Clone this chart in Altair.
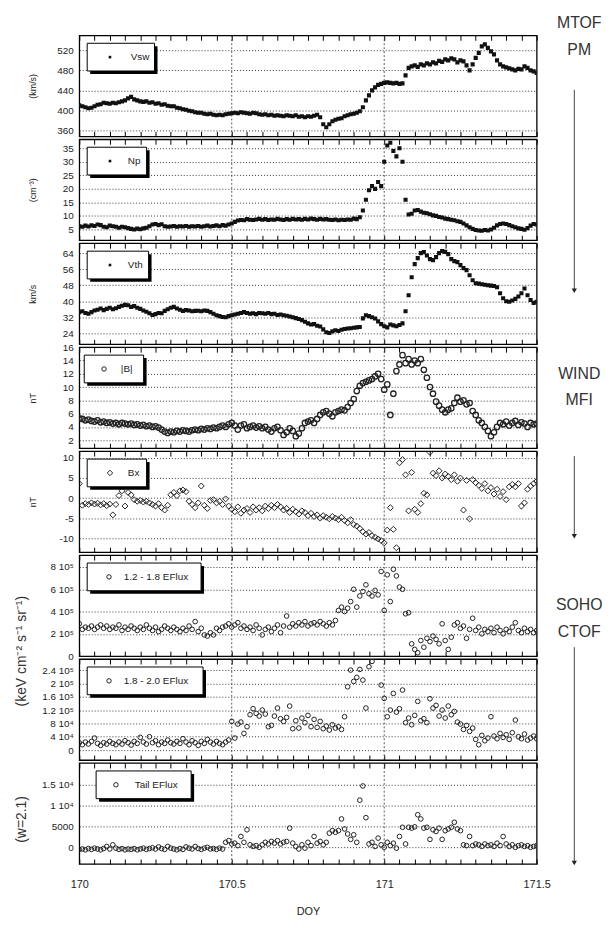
import altair as alt
import pandas as pd

# time grid (day of year)
T = [round(170 + i / 100, 2) for i in range(151)]
XT = [round(170 + i * 0.05, 2) for i in range(31)]

vsw = [410, 408, 406, 404, 405, 408, 411, 412, 415, 414,
       413, 415, 414, 416, 418, 420, 424, 427, 422, 420,
       418, 417, 418, 415, 416, 413, 414, 411, 412, 409,
       408, 408, 405, 404, 402, 401, 399, 398, 396, 395,
       395, 393, 392, 393, 391, 390, 391, 390, 392, 393,
       394, 395, 394, 396, 395, 394, 393, 395, 394, 392,
       391, 392, 390, 391, 389, 390, 389, 388, 390, 389,
       388, 390, 387, 388, 386, 388, 387, 389, 391, 386,
       372, 366, 372, 378, 381, 383, 384, 388, 390, 392,
       393, 395, 398, 406, 420, 430, 440, 446, 451, 453,
       455, 456, 455, 454, 455, 453, 454, 470, 485, 488,
       490, 487, 492, 490, 494, 492, 496, 494, 499, 497,
       502, 500, 504, 502, 496, 500, 498, 490, 480, 492,
       505, 515, 528, 532, 525, 518, 512, 500, 492, 488,
       486, 484, 482, 480, 483, 482, 488, 485, 480, 478,
       475]

np_ = [6.2, 6.0, 6.4, 6.1, 6.5, 6.3, 6.8, 6.6, 6.0, 5.8,
       6.4, 6.2, 6.0, 5.6, 6.0, 5.8, 5.5, 5.2, 5.0, 5.3,
       5.1, 5.4, 5.6, 6.2, 6.8, 7.0, 6.6, 6.9, 6.2, 6.0,
       6.1, 6.3, 6.0, 6.2, 6.1, 6.3, 6.0, 6.2, 6.1, 6.3,
       6.0, 6.2, 6.4, 6.1, 6.3, 6.5, 6.2, 6.6, 6.4, 6.8,
       7.2, 7.8, 8.3, 8.5, 8.4, 8.8, 8.6, 8.5, 8.7, 8.9,
       8.6, 8.8, 8.5, 8.7, 8.6, 8.9, 8.7, 8.5, 8.8, 8.6,
       8.9, 8.7, 8.8, 8.6, 8.9, 8.7, 9.0, 8.8, 8.6, 8.9,
       8.7, 8.8, 8.6, 8.5, 8.7, 8.4, 8.6, 8.5, 8.7, 8.6,
       9.0, 8.8, 9.5, 12.0, 16.0, 19.5, 21.0, 20.0, 22.5, 21.0,
       30.0, 36.0, 37.0, 34.0, 32.0, 35.0, 30.0, 16.0, 10.5, 10.8,
       12.0, 12.2, 11.6, 11.2, 11.0, 10.6, 10.2, 10.0, 9.6, 9.4,
       9.0, 8.8, 8.6, 8.4, 8.0, 7.8, 7.2, 6.5, 5.8, 5.2,
       4.8, 4.6, 4.5, 4.8, 4.6, 5.0, 5.6, 6.5, 7.0, 7.2,
       7.0, 6.6, 6.2, 5.8, 5.4, 5.2, 4.9, 5.5, 6.4, 7.0,
       6.8]

vth = [34.5, 35.0, 34.2, 33.8, 34.6, 35.4, 35.8, 36.4, 35.6, 36.2,
       36.8, 36.0, 36.5, 37.2, 37.8, 38.2, 38.0, 37.2, 37.6, 36.8,
       36.2, 35.4, 34.8, 34.0, 33.2, 33.6, 34.2, 34.0, 35.2, 36.0,
       36.8, 37.2, 36.4, 35.8, 35.2, 35.6, 35.4, 35.0, 35.2, 35.3,
       35.0, 35.4, 35.2, 34.6, 33.8, 33.0, 32.6, 32.2, 32.0, 32.6,
       33.0, 33.4, 33.8, 34.2, 34.6, 34.2, 33.8, 34.0, 33.6, 34.2,
       34.0, 33.8, 34.2, 33.6, 33.8, 33.2, 33.4, 33.0, 32.8, 32.4,
       32.0, 31.6, 31.2, 30.6, 29.8, 29.0, 28.4, 28.6, 27.8, 27.4,
       26.0, 24.6, 24.2, 25.0, 25.6, 25.2, 25.8, 26.2, 26.4, 26.6,
       26.8, 27.0, 27.2, 31.5, 33.0, 32.6, 32.0, 31.4, 30.0, 28.6,
       27.6, 27.0, 28.4, 28.0, 27.6, 28.2, 29.0, 35.0, 43.0, 52.0,
       58.5, 61.5, 64.0, 64.5, 62.8, 61.0, 60.5, 62.0, 64.0, 65.0,
       64.6, 63.5, 61.0, 60.0, 59.5, 58.0, 56.5, 55.5, 53.0, 50.5,
       49.0, 48.8, 48.5, 48.2, 48.0, 47.8, 47.6, 47.0, 44.0, 41.5,
       40.0, 39.8, 40.4, 41.2, 42.4, 44.0, 46.4, 43.0, 40.6, 39.2,
       39.8]

bmag = [5.3, 5.2, 5.0, 5.1, 4.9, 4.8, 5.0, 4.7, 4.8, 4.6,
        4.7, 4.5, 4.6, 4.4, 4.6, 4.5, 4.4, 4.5, 4.3, 4.4,
        4.2, 4.3, 4.1, 4.2, 4.0, 4.1, 3.9, 3.6, 3.3, 3.1,
        3.3, 3.2, 3.4, 3.3, 3.5, 3.4, 3.3, 3.5, 3.6, 3.5,
        3.7, 3.6, 3.8, 3.7, 3.9, 3.8, 4.0, 4.2, 4.0, 4.4,
        4.6, 4.2, 3.6, 4.2, 4.4, 3.8, 4.0, 4.2, 3.9, 4.1,
        3.8, 4.0, 3.6, 3.3, 3.8, 4.0, 3.5, 2.8, 3.2, 3.8,
        3.4, 2.6, 3.0, 3.8, 4.6, 4.8, 5.0, 4.6, 5.2, 5.8,
        6.2, 6.4, 6.0, 5.6, 6.2, 6.4, 6.6, 6.5, 7.0, 7.6,
        8.2, 9.4, 10.2, 10.6, 10.8, 11.0, 11.2, 11.6, 12.0, 11.2,
        9.6, 10.4, 5.8, 9.0, 12.4, 13.4, 14.8, 13.6, 14.2, 13.4,
        14.0, 13.6, 14.2, 12.6, 11.4, 10.0, 9.0, 7.8, 7.2, 6.6,
        6.2, 6.6, 6.8, 7.6, 8.4, 7.8, 8.0, 7.4, 7.6, 6.4,
        5.8, 5.0, 4.6, 4.0, 3.4, 2.6, 3.2, 4.0, 4.6, 4.4,
        4.8, 4.2, 4.6, 4.9, 4.3, 4.7, 4.5, 4.0, 4.6, 4.4,
        4.5]

bx = [3.6, -1.8, -1.4, -1.6, -1.2, -1.5, -1.3, -1.7, -1.4, -1.9,
      -1.5, -4.2, -1.6, 0.6, 1.8, -2.0, 1.4, 0.8, -0.4, -0.8,
      -0.6, -1.0, -0.8, -1.2, -1.6, -2.0, -1.4, -2.4, -3.0, -1.8,
      0.8, 1.4, 0.6, 1.8, 2.0, 1.6, -0.8, -1.6, -2.4, -1.2,
      3.0, -1.8, -2.6, -0.6, -0.4, -1.2, -0.8, -1.6, -0.2, -2.0,
      -2.8, -3.4, -2.2, -3.8, -3.0, -2.6, -3.6, -2.2, -3.0, -2.4,
      -3.2, -2.0, -2.6, -1.8, -2.4, -1.6, -2.2, -3.0, -2.6, -3.6,
      -2.8, -3.4, -4.0, -3.2, -3.6, -4.4, -3.8, -4.6, -4.2, -5.0,
      -4.4, -4.8, -5.2, -4.6, -5.0, -5.4, -4.8, -5.6, -6.2, -5.4,
      -6.6, -7.0, -7.6, -8.4, -9.0, -8.6, -9.4, -9.8, -10.2, -10.6,
      -11.2, -8.0, -2.4, -7.8, -12.4, 8.8, 9.6, 5.8, -3.2, 6.4,
      -2.8, -3.6, -1.4, 1.2, 0.8, 11.4, 6.2, 5.6, 6.8, 5.0,
      6.0, 5.4, 4.6, 5.8, 4.2, 5.0, -3.0, 4.4, -5.2, 4.6,
      3.8, 3.2, 2.4, 3.6, 1.8, 2.6, 1.0, 2.2, 0.4, 1.6,
      -0.4, 2.8, 3.4, 2.8, 3.6, -2.0, -1.2, 2.2, 3.0, 3.6,
      4.2]

# 1.2 - 1.8 EFlux, units of 1e5
ef1 = [2.9, 2.4, 2.6, 2.5, 2.7, 2.4, 2.6, 2.8, 2.5, 2.7,
       2.4, 2.6, 2.5, 2.8, 2.3, 2.6, 2.4, 2.7, 2.5, 2.3,
       2.6, 2.4, 2.8, 2.5, 2.3, 2.6, 2.2, 2.4, 2.7, 2.5,
       2.3, 2.6, 2.4, 2.2, 2.5, 2.3, 2.7, 2.4, 3.1, 2.2,
       2.5, 1.9, 1.8, 2.1, 1.9, 2.5, 2.3, 2.6, 2.7, 2.9,
       2.6, 2.8, 3.0, 2.5, 2.7, 2.4, 2.6, 2.3, 2.8, 2.5,
       1.9, 2.4, 2.6, 2.2, 2.5, 2.8, 2.1, 2.7, 3.6, 2.6,
       2.9, 2.7, 3.0, 2.8, 3.1, 2.7, 2.9, 3.0, 2.8, 3.1,
       2.9, 2.7, 3.0, 2.8, 3.2, 4.1, 4.4, 4.0, 4.3, 4.9,
       6.0, 4.4, 5.4, 5.8, 6.4, 5.6, 5.4, 5.9, 5.5, 7.6,
       4.1, 7.3, 4.9, 7.8, 7.2, 6.2, 6.0, 3.8, 3.9, 1.1,
       0.6, 0.3, 1.4, 0.8, 1.6, 1.3, 1.8, 1.5, 1.1, 2.9,
       1.4, 0.6, 1.7, 2.8, 3.0, 2.5, 2.7, 1.6, 2.4, 3.4,
       2.3, 2.6, 2.0, 2.4, 2.2, 2.5, 2.1, 2.6, 2.3, 2.0,
       2.4, 2.2, 2.6, 3.0, 2.3, 2.1, 2.5, 2.2, 2.4, 2.1,
       2.3]

# 1.8 - 2.0 EFlux, units of 1e4
ef2 = [2.2, 1.6, 2.4, 1.8, 2.6, 3.6, 2.0, 1.4, 2.2, 1.8,
       2.6, 2.0, 1.6, 2.4, 1.8, 2.8, 2.2, 1.5, 2.6, 2.0,
       3.8, 2.4, 1.8, 4.0, 2.2, 2.8, 1.6, 2.4, 2.0, 3.0,
       2.2, 1.8, 2.6, 2.0, 3.4, 2.4, 1.6, 2.8, 2.2, 1.4,
       2.6, 2.0, 3.2, 2.4, 1.8, 2.6, 2.0, 1.6, 2.4, 3.0,
       8.6, 3.6, 7.8, 8.4, 5.0, 7.0, 10.6, 12.4, 11.0, 10.2,
       12.0, 10.8, 7.0, 7.4, 10.2, 12.6, 9.4, 8.6, 9.8, 13.2,
       6.4, 8.8, 6.6, 9.6, 8.2, 10.4, 7.0, 9.2, 6.8, 8.6,
       6.4, 7.2, 6.0, 7.6, 6.6, 7.0, 6.2, 10.0, 19.0, 24.0,
       20.6, 21.8, 24.2, 21.0, 12.6, 25.0, 26.6, None, None, 19.5,
       15.5, 10.0, 12.0, 17.0, 11.4, 12.4, 18.0, 8.2, 9.6, 7.6,
       10.4, 14.6, 8.8, 9.4, 8.2, 15.4, 12.6, 13.4, 10.2, 12.0,
       9.6, 13.2, 10.6, 11.6, 8.4, 7.8, 6.2, 7.4, 5.6, 6.6,
       3.2, 1.6, 4.4, 2.8, 3.6, 10.0, 4.2, 3.4, 5.0, 3.8,
       4.6, 3.2, 5.2, 9.0, 4.0, 3.4, 4.8, 3.0, 3.6, 4.2,
       3.4]

# Tail EFlux, units of 1e3
tail = [-0.5, -0.4, -0.6, -0.3, -0.5, -0.2, -0.4, -0.6, -0.3, 0.2,
        -0.4, 0.6, -0.2, -0.5, -0.3, -0.6, -0.4, -0.5, -0.3, -0.6,
        -0.4, -0.2, -0.5, -0.3, -0.1, -0.4, 0.1, -0.3, -0.5, 0.2,
        -0.2, -0.4, -0.6, -0.3, -0.5, 0.1, -0.2, -0.4, 0.2, -0.3,
        -0.5, -0.2, 0.0, -0.4, -0.3, -0.5, -0.2, -0.4, 1.2, 1.6,
        0.8, 1.0, 0.4, 2.6, 1.2, 4.2, 0.6, 0.2, 0.4, 0.0,
        0.6, 1.2, 0.8, 1.4, 1.0, 1.6, 0.8, 1.2, 1.4, 4.6,
        1.0, 0.2, -0.4, 0.6, -0.2, 1.2, 0.4, 2.6, 1.0, 1.4,
        0.6, 1.2, 3.4, 4.0, 3.6, 4.0, 6.8, 4.4, 3.2, 1.9,
        3.0, 1.2, 11.3, 14.7, 7.1, 0.8, 1.2, 0.2, 2.2, 0.6,
        0.0, 1.2, 0.4, 1.0, -0.2, 2.6, 4.8, 0.8, 4.8, 4.6,
        4.9, 7.8, 6.8, 4.6, 4.8, 1.9, 4.2, 3.8, 4.6, 1.9,
        4.0, 4.4, 4.8, 6.0, 4.4, 4.0, 0.6, 0.4, 2.6, 0.4,
        0.8, 0.6, 0.2, 0.8, 0.4, 0.6, 0.2, 1.0, 0.4, 2.6,
        0.8, 0.2, 0.6, 0.0, 0.4, 0.6, 0.2, 0.4, 0.0, 0.2,
        0.4]

FONT = "Liberation Sans Narrow, Liberation Sans, Arial, sans-serif"
W, H = 462, 102
ONE = alt.Data(values=[{"a": 1}])
XSCALE = alt.Scale(domain=[170, 171.5], nice=False, zero=False)


def tern(pairs):
    parts = [f"abs(datum.value - ({v})) < 1e-6 ? '{s}'" for v, s in pairs]
    return " : ".join(parts) + " : ''"


def x_bottom(last):
    kw = dict(orient="bottom", values=XT, tickSize=5, offset=-5, domain=False,
              grid=False, tickColor="black", tickWidth=1)
    if last:
        kw.update(labels=True, labelOverlap=False, labelFlush=False,
                  labelExpr=tern([(170, "170"), (170.5, "170.5"), (171, "171"), (171.5, "171.5")]),
                  labelPadding=15, labelFontSize=11, labelFont=FONT, labelColor="#222",
                  titleFont=FONT, titleFontSize=11, titleFontWeight="normal",
                  titlePadding=16, titleColor="#222")
    else:
        kw.update(labels=False)
    return alt.Axis(**kw)


X_TOP = alt.Axis(orient="top", values=XT, tickSize=5, offset=-5, domain=False,
                 grid=False, labels=False, tickColor="black", tickWidth=1)


def panel(vals, domain, yticks, ylabels, ytitle, kind, legend, box, last=False, extra=()):
    df = pd.DataFrame({"t": T, "v": vals})
    yaxis = alt.Axis(values=yticks, labelExpr=tern(list(zip(yticks, ylabels))),
                     grid=True, gridDash=[1, 2], gridColor="#222", gridWidth=0.9,
                     ticks=False, domain=False, labelFont=FONT, labelFontSize=10,
                     labelColor="#222", labelPadding=6, labelOverlap=False,
                     titleFont=FONT, titleFontSize=9, titleFontWeight="normal",
                     titleColor="#222", titleX=-47, titleY=H / 2, titleAngle=270,
                     titleAlign="center", titleBaseline="middle")
    enc = dict(
        x=alt.X("t:Q", scale=XSCALE, axis=x_bottom(last), title="DOY" if last else ""),
        y=alt.Y("v:Q", scale=alt.Scale(domain=domain, nice=False, zero=False),
                axis=yaxis, title=ytitle),
    )
    if kind == "dot":
        pts = alt.Chart(df).mark_square(size=17, color="#111", opacity=1, clip=True)
    elif kind == "blob":
        pts = alt.Chart(df).mark_point(shape="circle", filled=False, size=30,
                                       strokeWidth=1.3, color="#222", opacity=1, clip=True)
    elif kind == "circle":
        pts = alt.Chart(df).mark_point(shape="circle", filled=False, size=22,
                                       strokeWidth=1, color="#222", opacity=1, clip=True)
    else:
        pts = alt.Chart(df).mark_point(shape="diamond", filled=False, size=36,
                                       strokeWidth=1, color="#222", opacity=1, clip=True)
    pts = pts.encode(**enc)

    rules = alt.Chart(alt.Data(values=[{"t": 170.5}, {"t": 171.0}])).mark_rule(
        strokeDash=[2, 2], color="#333", strokeWidth=0.8
    ).encode(x=alt.X("t:Q", scale=XSCALE, axis=X_TOP, title=""))

    bx0, bw, sx, tx = box
    by, bh = 8, 28
    shadow = alt.Chart(ONE).mark_rect(color="black").encode(
        x=alt.value(bx0 + 3), x2=alt.value(bx0 + bw + 3),
        y=alt.value(by + 3), y2=alt.value(by + bh + 3))
    frame = alt.Chart(ONE).mark_rect(fill="white", stroke="black", strokeWidth=1).encode(
        x=alt.value(bx0), x2=alt.value(bx0 + bw), y=alt.value(by), y2=alt.value(by + bh))
    if kind == "dot":
        sym = alt.Chart(ONE).mark_square(size=7, color="#111", opacity=1)
    elif kind in ("circle", "blob"):
        sym = alt.Chart(ONE).mark_point(shape="circle", filled=False, size=20,
                                        strokeWidth=1, color="#222", opacity=1)
    else:
        sym = alt.Chart(ONE).mark_point(shape="diamond", filled=False, size=30,
                                        strokeWidth=1, color="#222", opacity=1)
    sym = sym.encode(x=alt.value(sx), y=alt.value(by + bh / 2))
    txt = alt.Chart(ONE).mark_text(align="left", baseline="middle", font=FONT,
                                   fontSize=10, color="#222").encode(
        x=alt.value(tx), y=alt.value(by + bh / 2), text=alt.value(legend))
    return alt.layer(rules, pts, shadow, frame, sym, txt, *extra).resolve_axis(
        x="independent").properties(width=W, height=H)


def note(text, x, y, size=16, angle=0):
    return alt.Chart(ONE).mark_text(align="center", baseline="middle", font=FONT,
                                    fontSize=size, color="#333", angle=angle).encode(
        x=alt.value(x), y=alt.value(y), text=alt.value(text))


def arrow(x, y0, y1):
    line = alt.Chart(ONE).mark_rule(color="#444", strokeWidth=1).encode(
        x=alt.value(x), y=alt.value(y0), y2=alt.value(y1))
    head = alt.Chart(ONE).mark_point(shape="triangle-down", filled=True, size=28,
                                     color="#222", opacity=1).encode(
        x=alt.value(x), y=alt.value(y1))
    return [line, head]


deco = [note("MTOF", 505, -12), note("PM", 505, 15), *arrow(500, 55, 258),
        note("WIND", 505, 342), note("MFI", 505, 368), *arrow(500, 425, 506),
        note("SOHO", 505, 575), note("CTOF", 505, 603), *arrow(500, 618, 836),
        note("(keV cm\u207b\u00b2 s\u207b\u00b9 sr\u207b\u00b9)", -58, 622, 14, 270),
        note("(w=2.1)", -58, 792, 14, 270)]

p1 = panel(vsw, [348, 550], [360, 400, 440, 480, 520], ["360", "400", "440", "480", "520"],
           "(km/s)", "dot", "Vsw", (8, 68, 31, 52), extra=deco)
p2 = panel(np_, [1, 38.3], [5, 10, 15, 20, 25, 30, 35],
           ["5", "10", "15", "20", "25", "30", "35"],
           "(cm\u207b\u00b3)", "dot", "Np", (8, 60, 31, 49))
p3 = panel(vth, [18.6, 68.9], [24, 32, 40, 48, 56, 64], ["24", "32", "40", "48", "56", "64"],
           "km/s", "dot", "Vth", (8, 62, 31, 49))
p4 = panel(bmag, [0.8, 16], [2, 4, 6, 8, 10, 12, 14, 16],
           ["2", "4", "6", "8", "10", "12", "14", "16"],
           "nT", "blob", "|B|", (5, 60, 25, 42))
p5 = panel(bx, [-13.5, 11.7], [-10, -5, 0, 5, 10], ["-10", "-5", "0", "5", "10"],
           "nT", "diamond", "Bx", (8, 60, 31, 49))
p6 = panel(ef1, [0, 9.07], [0, 2, 4, 6, 8],
           ["0", "2 10\u2075", "4 10\u2075", "6 10\u2075", "8 10\u2075"],
           "", "circle", "1.2 - 1.8 EFlux", (8, 115, 30, 45))
p7 = panel(ef2, [-3.0, 27.3], [0, 4, 8, 12, 16, 20, 24],
           ["0", "4 10\u2074", "8 10\u2074", "1.2 10\u2075", "1.6 10\u2075", "2 10\u2075", "2.4 10\u2075"],
           "", "circle", "1.8 - 2.0 EFlux", (8, 117, 30, 45))
p8 = panel(tail, [-4.0, 20.2], [0, 5, 10, 15], ["0", "5000", "1 10\u2074", "1.5 10\u2074"],
           "", "circle", "Tail EFlux", (17, 96, 37, 56), last=True)

chart = alt.vconcat(p1, p2, p3, p4, p5, p6, p7, p8, spacing=3, bounds="flush").properties(
    padding={"left": 6, "top": 2, "right": 0, "bottom": 4}
).configure_view(stroke="black", strokeWidth=1.3)

chart.save("out.html", embed_options={"renderer": "svg", "actions": False})
